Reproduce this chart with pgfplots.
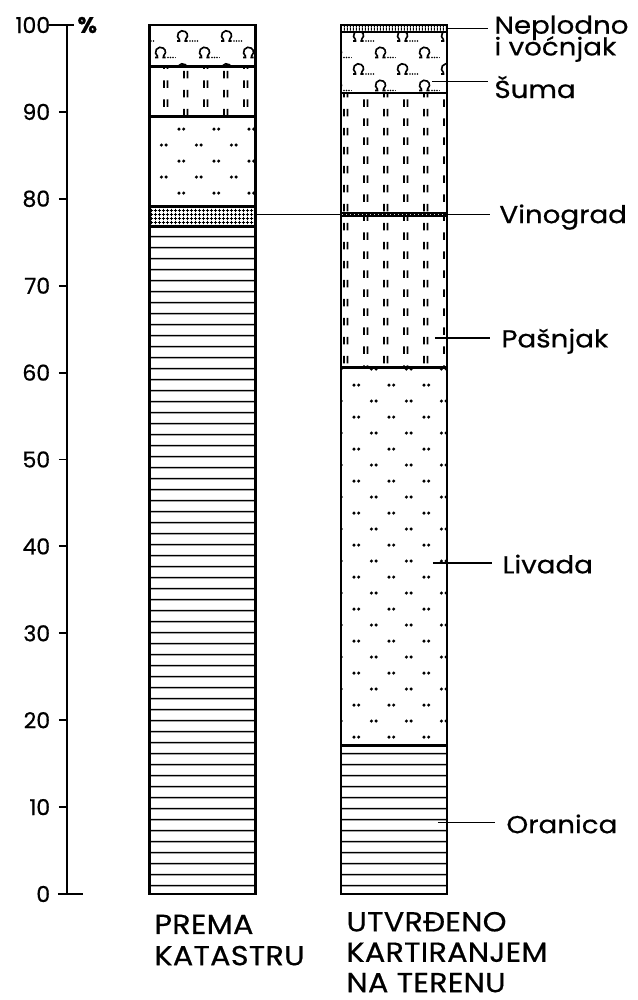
\documentclass[border=0pt]{standalone}
\usepackage{fontspec}
\setmainfont{Poppins}[FakeBold=0.6]
\newfontfamily\labfamily{Poppins}[FakeBold=0.6, FakeStretch=1.13]
\newfontfamily\blabfamily{Poppins}[FakeBold=0.6, FakeStretch=1.1, LetterSpace=1]
\usepackage{pgfplots}
\pgfplotsset{compat=1.18}
\usetikzlibrary{patterns}

% Oranica: horizontal lines
\pgfdeclarepatternformonly{oranica}{\pgfpointorigin}{\pgfpoint{4pt}{4.36pt}}{\pgfpoint{4pt}{4.36pt}}{%
  \pgfsetlinewidth{0.6pt}%
  \pgfpathmoveto{\pgfpoint{0pt}{2.18pt}}\pgfpathlineto{\pgfpoint{4pt}{2.18pt}}\pgfusepath{stroke}}
% Vinograd: dense grid
\pgfdeclarepatternformonly{vinograd}{\pgfpointorigin}{\pgfpoint{1.4pt}{1.4pt}}{\pgfpoint{1.4pt}{1.4pt}}{%
  \pgfsetlinewidth{0.4pt}%
  \pgfpathmoveto{\pgfpoint{0pt}{0.7pt}}\pgfpathlineto{\pgfpoint{1.4pt}{0.7pt}}%
  \pgfpathmoveto{\pgfpoint{0.7pt}{0pt}}\pgfpathlineto{\pgfpoint{0.7pt}{1.4pt}}\pgfusepath{stroke}}
% Livada: pairs of dots
\pgfdeclarepatternformonly{livada}{\pgfpointorigin}{\pgfpoint{14pt}{12.8pt}}{\pgfpoint{14pt}{12.8pt}}{%
  \pgfpathcircle{\pgfpoint{2pt}{3.2pt}}{0.7pt}\pgfpathcircle{\pgfpoint{3.9pt}{3.2pt}}{0.7pt}%
  \pgfpathcircle{\pgfpoint{9pt}{9.6pt}}{0.7pt}\pgfpathcircle{\pgfpoint{10.9pt}{9.6pt}}{0.7pt}%
  \pgfusepath{fill}}
% Pasnjak: double dashes
\pgfdeclarepatternformonly{pasnjak}{\pgfpointorigin}{\pgfpoint{16pt}{7.6pt}}{\pgfpoint{16pt}{7.6pt}}{%
  \pgfsetlinewidth{0.65pt}%
  \pgfpathmoveto{\pgfpoint{2pt}{0.5pt}}\pgfpathlineto{\pgfpoint{2pt}{3.5pt}}%
  \pgfpathmoveto{\pgfpoint{3.4pt}{0.5pt}}\pgfpathlineto{\pgfpoint{3.4pt}{3.5pt}}%
  \pgfpathmoveto{\pgfpoint{10pt}{4.3pt}}\pgfpathlineto{\pgfpoint{10pt}{7.3pt}}%
  \pgfpathmoveto{\pgfpoint{11.4pt}{4.3pt}}\pgfpathlineto{\pgfpoint{11.4pt}{7.3pt}}%
  \pgfusepath{stroke}}
% Suma i vocnjak: omega signs with dots
\pgfdeclarepatternformonly{suma}{\pgfpointorigin}{\pgfpoint{17.6pt}{13.2pt}}{\pgfpoint{17.6pt}{13.2pt}}{%
  \pgfsetlinewidth{0.65pt}%
  \pgfpathmoveto{\pgfpoint{1.85pt}{1.66pt}}\pgfpatharc{235}{-55}{2pt}%
  \pgfpathmoveto{\pgfpoint{0.9pt}{1.2pt}}\pgfpathlineto{\pgfpoint{2.2pt}{1.2pt}}%
  \pgfpathmoveto{\pgfpoint{3.8pt}{1.2pt}}\pgfpathlineto{\pgfpoint{5.1pt}{1.2pt}}%
  \pgfpathmoveto{\pgfpoint{10.65pt}{8.26pt}}\pgfpatharc{235}{-55}{2pt}%
  \pgfpathmoveto{\pgfpoint{9.7pt}{7.8pt}}\pgfpathlineto{\pgfpoint{11.0pt}{7.8pt}}%
  \pgfpathmoveto{\pgfpoint{12.6pt}{7.8pt}}\pgfpathlineto{\pgfpoint{13.9pt}{7.8pt}}%
  \pgfusepath{stroke}%
  \pgfpathcircle{\pgfpoint{6.0pt}{1.2pt}}{0.35pt}\pgfpathcircle{\pgfpoint{7.0pt}{1.2pt}}{0.35pt}%
  \pgfpathcircle{\pgfpoint{8.0pt}{1.2pt}}{0.35pt}\pgfpathcircle{\pgfpoint{9.0pt}{1.2pt}}{0.35pt}%
  \pgfpathcircle{\pgfpoint{14.8pt}{7.8pt}}{0.35pt}\pgfpathcircle{\pgfpoint{15.8pt}{7.8pt}}{0.35pt}%
  \pgfpathcircle{\pgfpoint{16.8pt}{7.8pt}}{0.35pt}\pgfpathcircle{\pgfpoint{0.2pt}{7.8pt}}{0.2pt}%
  \pgfusepath{fill}}
% Neplodno: dense vertical lines
\pgfdeclarepatternformonly{neplodno}{\pgfpointorigin}{\pgfpoint{1.3pt}{1.3pt}}{\pgfpoint{1.3pt}{1.3pt}}{%
  \pgfsetlinewidth{0.55pt}%
  \pgfpathmoveto{\pgfpoint{0.65pt}{0pt}}\pgfpathlineto{\pgfpoint{0.65pt}{1.3pt}}\pgfusepath{stroke}}

\newcommand{\labfont}{\labfamily\fontsize{9.8}{9.8}\selectfont}
\newcommand{\blabfont}{\blabfamily\fontsize{11}{11}\selectfont}

% segment style: white fill, pattern on top, black outline
\tikzset{seg/.style={draw=black, line width=1pt, fill=white, postaction={pattern=#1}}}

\begin{document}
\begin{tikzpicture}
\begin{axis}[
  x=0.4pt, y=3.476pt,
  xmin=67, xmax=460, ymin=0, ymax=100,
  axis x line=none, axis y line*=left,
  axis line style={line width=0.75pt},
  ytick={0,10,...,100},
  tick align=outside, major tick length=3.2pt,
  tick style={black, line width=0.75pt},
  yticklabel style={font=\fontsize{8.8}{8.8}\selectfont},
  /pgf/number format/assume math mode=true,
  ybar, bar width=106, bar shift=0pt,
  clip=false,
]
% PREMA KATASTRU: cumulative tops of each layer (drawn top layer first)
\addplot[seg=suma]     coordinates {(202.5,100)};
\addplot[seg=pasnjak]  coordinates {(202.5,95.2)};
\addplot[seg=livada]   coordinates {(202.5,89.5)};
\addplot[seg=vinograd] coordinates {(202.5,79.1)};
\addplot[seg=oranica]  coordinates {(202.5,76.8)};
% UTVRDENO KARTIRANJEM NA TERENU
\addplot[seg=neplodno] coordinates {(394,100)};
\addplot[seg=suma]     coordinates {(394,99.2)};
\addplot[seg=pasnjak]  coordinates {(394,92.2)};
\addplot[seg=vinograd] coordinates {(394,78.35)};
\addplot[seg=pasnjak]  coordinates {(394,78.0)};
\addplot[seg=livada]   coordinates {(394,60.6)};
\addplot[seg=oranica]  coordinates {(394,17.1)};

% extended ticks and unit
\draw[line width=0.75pt] (axis cs:49,100) -- (axis cs:74,100);
\draw[line width=0.75pt] (axis cs:58,0) -- (axis cs:83,0);
\node[anchor=west, inner sep=0pt, font=\fontsize{9}{9}\selectfont\bfseries] at (axis cs:77,100) {\%};

% leader lines
\draw[line width=0.6pt] (axis cs:448,99.6) -- (axis cs:488,99.6);
\draw[line width=0.6pt] (axis cs:432,93.5) -- (axis cs:488,93.5);
\draw[line width=0.6pt] (axis cs:255,78.2) -- (axis cs:340,78.2);
\draw[line width=0.6pt] (axis cs:448,78.2) -- (axis cs:490,78.2);
\draw[line width=0.6pt] (axis cs:435,64.0) -- (axis cs:490,64.0);
\draw[line width=0.6pt] (axis cs:433,38.1) -- (axis cs:492,38.1);
\draw[line width=0.6pt] (axis cs:438,8.2) -- (axis cs:495,8.2);

% labels
\node[anchor=base west, inner sep=0pt, font=\labfont] at (axis cs:494,99.0) {Neplodno};
\node[anchor=base west, inner sep=0pt, font=\labfont] at (axis cs:494,96.5) {i voćnjak};
\node[anchor=base west, inner sep=0pt, font=\labfont] at (axis cs:494,91.6) {Šuma};
\node[anchor=base west, inner sep=0pt, font=\labfont] at (axis cs:499,77.2) {Vinograd};
\node[anchor=base west, inner sep=0pt, font=\labfont] at (axis cs:501,62.9) {Pašnjak};
\node[anchor=base west, inner sep=0pt, font=\labfont] at (axis cs:502,36.9) {Livada};
\node[anchor=base west, inner sep=0pt, font=\labfont] at (axis cs:506,7.0) {Oranica};

\node[anchor=base west, inner sep=0pt, font=\blabfont] at (axis cs:154,-4.6) {PREMA};
\node[anchor=base west, inner sep=0pt, font=\blabfont] at (axis cs:154,-8.2) {KATASTRU};
\node[anchor=base west, inner sep=0pt, font=\blabfont] at (axis cs:346,-4.3) {UTVRĐENO};
\node[anchor=base west, inner sep=0pt, font=\blabfont] at (axis cs:346,-7.8) {KARTIRANJEM};
\node[anchor=base west, inner sep=0pt, font=\blabfont] at (axis cs:346,-11.3) {NA TERENU};

\coordinate (BL) at (axis cs:0,-12.2);
\coordinate (TR) at (axis cs:638,102.88);
\end{axis}
\pgfresetboundingbox
\path (BL) rectangle (TR);
\end{tikzpicture}
\end{document}
